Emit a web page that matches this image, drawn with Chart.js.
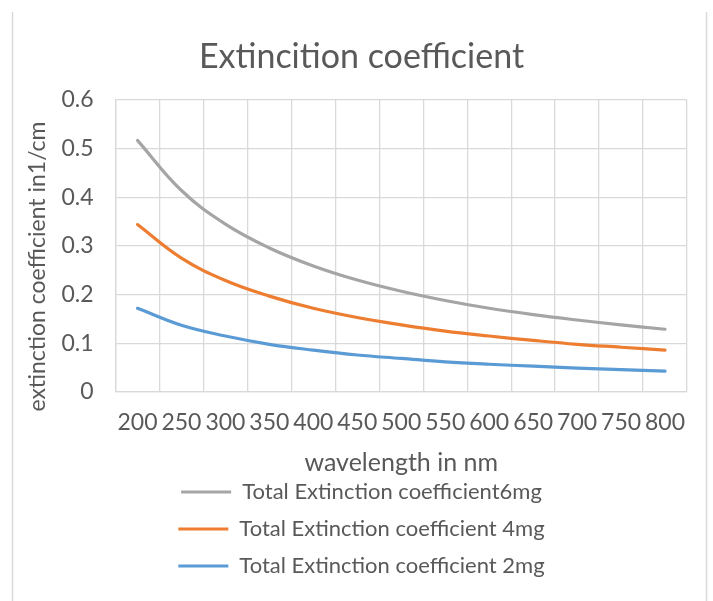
<!DOCTYPE html>
<html>
<head>
<meta charset="utf-8">
<script src="https://cdn.jsdelivr.net/npm/chart.js@4"></script>
<style>
html,body{margin:0;padding:0;background:#fff;}
canvas{display:block;}
</style>
</head>
<body>
<canvas id="c" width="713" height="601"></canvas>
<script>
const wavelengths = ['200','250','300','350','400','450','500','550','600','650','700','750','800'];
const ext6mg = [0.517,0.414,0.345,0.296,0.259,0.230,0.207,0.188,0.172,0.159,0.148,0.138,0.129];
const ext4mg = [0.344,0.275,0.229,0.197,0.172,0.153,0.138,0.125,0.115,0.106,0.098,0.092,0.086];
const ext2mg = [0.172,0.137,0.115,0.098,0.086,0.076,0.069,0.062,0.057,0.053,0.049,0.046,0.043];
const seriesNames = ['Total Extinction coefficient6mg','Total Extinction coefficient 4mg','Total Extinction coefficient 2mg'];
const seriesColors = ['#A5A5A5','#ED7D31','#5B9BD5'];

const FONT = 'Lato';
const TXT = '#595959';
const GRID = '#D9D9D9';

const frame = {
  id: 'frame',
  beforeDraw(chart) {
    const ctx = chart.ctx;
    ctx.save();
    ctx.fillStyle = '#fff';
    ctx.fillRect(0, 0, chart.width, chart.height);
    ctx.strokeStyle = GRID;
    ctx.lineWidth = 1.5;
    ctx.beginPath();
    ctx.moveTo(12.5, 12); ctx.lineTo(12.5, chart.height);
    ctx.moveTo(706.5, 12); ctx.lineTo(706.5, chart.height);
    ctx.stroke();
    ctx.restore();
  }
};

const datasets = [ext6mg, ext4mg, ext2mg].map((d, i) => ({
  label: seriesNames[i],
  data: d,
  borderColor: seriesColors[i],
  backgroundColor: seriesColors[i],
  borderWidth: 3.2,
  pointRadius: 0,
  tension: 0.4,
  fill: false,
  borderCapStyle: 'round'
}));

new Chart(document.getElementById('c'), {
  type: 'line',
  data: { labels: wavelengths, datasets },
  plugins: [frame],
  options: {
    responsive: false,
    devicePixelRatio: 1,
    animation: false,
    layout: { padding: { left: 36, right: 26, top: 0, bottom: 14 } },
    plugins: {
      title: {
        display: true,
        text: 'Extincition coefficient',
        color: TXT,
        font: { family: FONT, size: 34, weight: 'normal' },
        padding: { top: 36.5, bottom: 22.7 }
      },
      legend: {
        display: true,
        position: 'bottom',
        labels: {
          color: TXT,
          font: { family: FONT, size: 22 },
          usePointStyle: true,
          pointStyle: 'line',
          pointStyleWidth: 50,
          padding: 15
        }
      },
      tooltip: { enabled: false }
    },
    scales: {
      x: {
        type: 'category',
        offset: true,
        grid: { offset: true, color: GRID, lineWidth: 1.3, drawTicks: false },
        border: { color: GRID, width: 1.3 },
        ticks: { color: TXT, font: { family: FONT, size: 23 }, padding: 17.2, maxRotation: 0, autoSkip: false },
        title: { display: true, text: 'wavelength in nm', color: TXT, font: { family: FONT, size: 25 }, padding: { top: -6, bottom: -12 } }
      },
      y: {
        min: 0, max: 0.6,
        grid: { color: GRID, lineWidth: 1.3, drawTicks: false },
        border: { color: GRID, width: 1.3 },
        ticks: { stepSize: 0.1, color: TXT, font: { family: FONT, size: 23 }, padding: 22,
          callback: v => Math.round(v * 10) / 10 },
        title: { display: true, text: 'extinction coefficient in1/cm       ', color: TXT, font: { family: FONT, size: 23 }, padding: { top: -11.8, bottom: -12.4 } }
      }
    }
  }
});
</script>
</body>
</html>
